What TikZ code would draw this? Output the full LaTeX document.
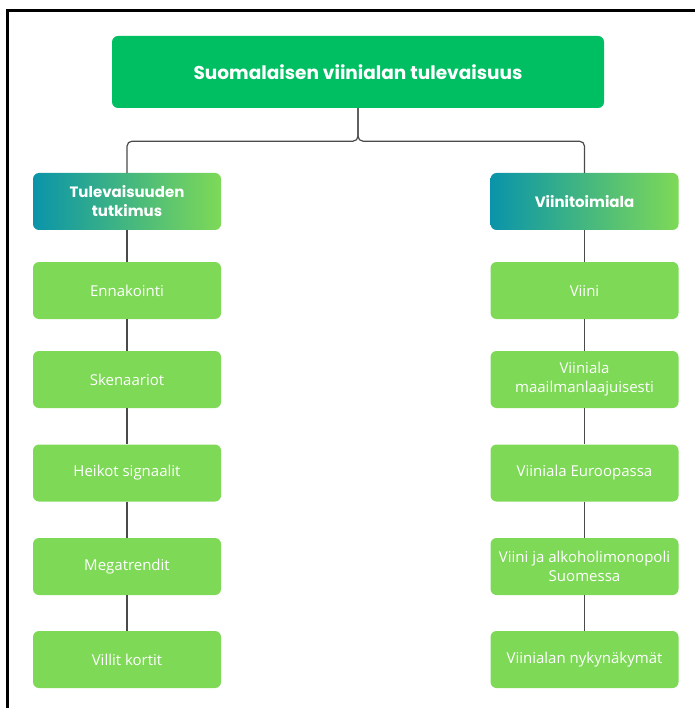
\documentclass[tikz,border=0pt]{standalone}
\usepackage{fontspec}
\setmainfont{Open Sans}
\newfontfamily\headfont{Poppins}
\usepackage{tikz}
\usetikzlibrary{positioning}
\definecolor{titlegreen}{HTML}{00BF63}
\definecolor{leafgreen}{HTML}{7ED957}
\definecolor{tealblue}{HTML}{0A94A9}
\definecolor{linegray}{HTML}{4A4A4A}

\begin{document}
\begin{tikzpicture}[x=1pt,y=-1pt,every node/.style={inner sep=0pt,align=center,text=white,rounded corners=6pt},
	titlebox/.style={fill=titlegreen,minimum width=492pt,minimum height=72pt,font=\headfont\bfseries\fontsize{18.5}{22}\selectfont},
	headbox/.style={left color=tealblue,right color=leafgreen,minimum width=188pt,minimum height=57pt,font=\headfont\bfseries\fontsize{15}{19}\selectfont},
	itembox/.style={fill=leafgreen,minimum width=188pt,minimum height=57pt,font=\fontsize{15}{19}\selectfont},
	conn/.style={draw=linegray,line width=1.2pt}]
	\useasboundingbox (0,0) rectangle (695,708);
	\draw[line width=3pt] (7,708) -- (7,10.5) -- (695,10.5);

	\node[titlebox] (title) at (358,72) {Suomalaisen viinialan tulevaisuus};

	\node[headbox] (lhead) at (127,201.5) {Tulevaisuuden\\tutkimus};
	\node[headbox] (rhead) at (584.5,201.5) {Viinitoimiala};

	\node[itembox] (l1) at (127,290.5) {Ennakointi};
	\node[itembox] (l2) at (127,379.5) {Skenaariot};
	\node[itembox] (l3) at (127,473) {Heikot signaalit};
	\node[itembox] (l4) at (127,566.5) {Megatrendit};
	\node[itembox] (l5) at (127,659.5) {Villit kortit};

	\node[itembox] (r1) at (584.5,290.5) {Viini};
	\node[itembox] (r2) at (584.5,379.5) {Viiniala\\maailmanlaajuisesti};
	\node[itembox] (r3) at (584.5,473) {Viiniala Euroopassa};
	\node[itembox] (r4) at (584.5,566.5) {Viini ja alkoholimonopoli\\Suomessa};
	\node[itembox] (r5) at (584.5,659.5) {Viinialan nykynäkymät};

	\draw[conn,rounded corners=5pt] (title.south) -- ++(0,33) -| (lhead.north);
	\draw[conn,rounded corners=5pt] (title.south) -- ++(0,33) -| (rhead.north);

	\draw[conn] (lhead) -- (l1);
	\draw[conn] (l1) -- (l2);
	\draw[conn] (l2) -- (l3);
	\draw[conn] (l3) -- (l4);
	\draw[conn] (l4) -- (l5);

	\draw[conn] (rhead) -- (r1);
	\draw[conn] (r1) -- (r2);
	\draw[conn] (r2) -- (r3);
	\draw[conn] (r3) -- (r4);
	\draw[conn] (r4) -- (r5);
\end{tikzpicture}
\end{document}
